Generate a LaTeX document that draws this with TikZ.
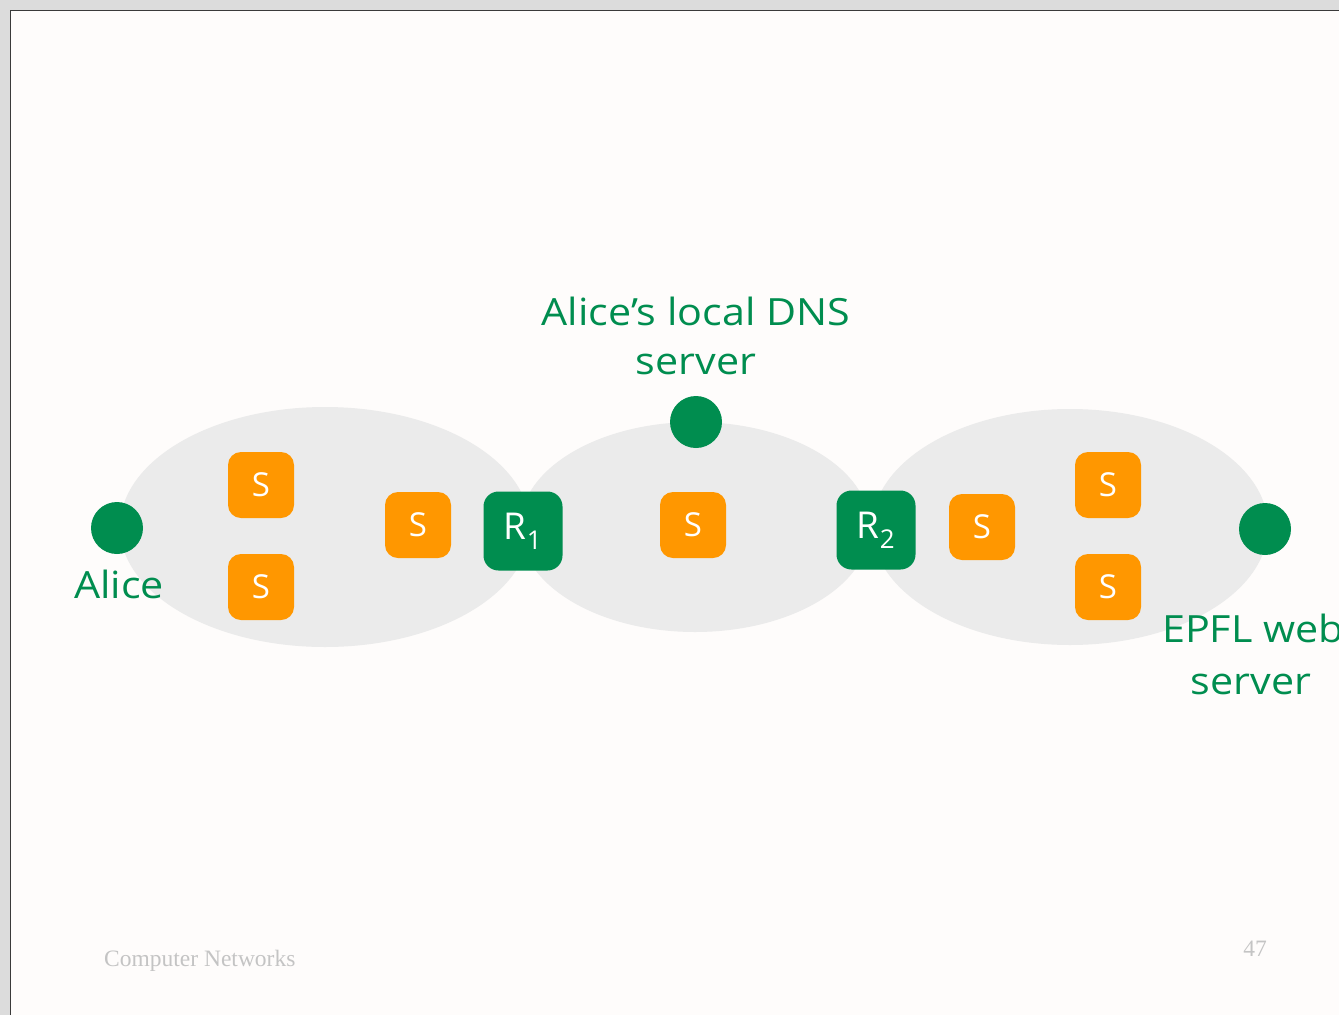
\documentclass[tikz,border=0pt]{standalone}
\usepackage{fontspec}
\setmainfont{Open Sans}
\newfontfamily\labfont[FakeStretch=1.1]{Open Sans}
\newfontfamily\boxfont{Open Sans}
\newfontfamily\footfont{Liberation Serif}
\definecolor{pagebg}{HTML}{FEFCFB}
\definecolor{outerbg}{HTML}{DCDCDC}
\definecolor{framec}{HTML}{3A3A3A}
\definecolor{cloud}{HTML}{EBEBEB}
\definecolor{netgreen}{HTML}{008D4F}
\definecolor{sworange}{HTML}{FF9700}
\definecolor{footgrey}{HTML}{C4C4C4}
\tikzset{
  swbox/.style={fill=sworange, rounded corners=13pt, minimum width=66pt, minimum height=66pt, inner sep=0pt, text=white, font=\boxfont\fontsize{33}{33}\selectfont},
  rtbox/.style={fill=netgreen, rounded corners=15pt, minimum width=79pt, minimum height=79pt, inner sep=0pt, text=white, font=\boxfont\fontsize{37}{37}\selectfont},
  host/.style={circle, fill=netgreen, minimum size=52pt, inner sep=0pt},
  lab/.style={text=netgreen, font=\labfont\fontsize{37.5}{50}\selectfont, inner sep=0pt, align=center},
  foot/.style={text=footgrey, font=\footfont\fontsize{23.5}{23.5}\selectfont, inner sep=0pt}
}
\begin{document}
\begin{tikzpicture}[x=1pt,y=-1pt]
\useasboundingbox (0,0) rectangle (1339,1015);
\fill[outerbg] (0,0) rectangle (1339,1015);
\fill[pagebg] (10,10) rectangle (1339,1015);
\draw[framec, line width=1.5pt] (10.5,1015) -- (10.5,10.5) -- (1339,10.5);
% clouds
\fill[cloud] (325,527) ellipse [x radius=205, y radius=120];
\fill[cloud] (695,527) ellipse [x radius=175, y radius=105];
\fill[cloud] (1070,527) ellipse [x radius=198, y radius=118];
% hosts
\node[host] (alice) at (117,528) {};
\node[host] (dns) at (696,422) {};
\node[host] (web) at (1265,529) {};
% switches
\node[swbox] (s1) at (261,485) {S};
\node[swbox] (s2) at (261,587) {S};
\node[swbox] (s3) at (418,525) {S};
\node[swbox] (s4) at (693,525) {S};
\node[swbox] (s5) at (982,527) {S};
\node[swbox] (s6) at (1108,485) {S};
\node[swbox] (s7) at (1108,587) {S};
% routers
\node[rtbox] (r1) at (523,531) {R\textsubscript{1}};
\node[rtbox] (r2) at (876,530) {R\textsubscript{2}};
% labels
\node[lab, anchor=base] (alicelab) at (119,598) {Alice};
\node[lab, anchor=base] (dnslab1) at (696,325) {Alice’s local DNS};
\node[lab, anchor=base] (dnslab2) at (696,374) {server};
\node[lab, anchor=base west] (weblab1) at (1162,642) {EPFL web};
\node[lab, anchor=base] (weblab2) at (1251,694) {server};
% footer
\node[foot, anchor=base west] (course) at (104,966) {Computer Networks};
\node[foot, anchor=base] (pagenum) at (1255,956) {47};
\end{tikzpicture}
\end{document}
